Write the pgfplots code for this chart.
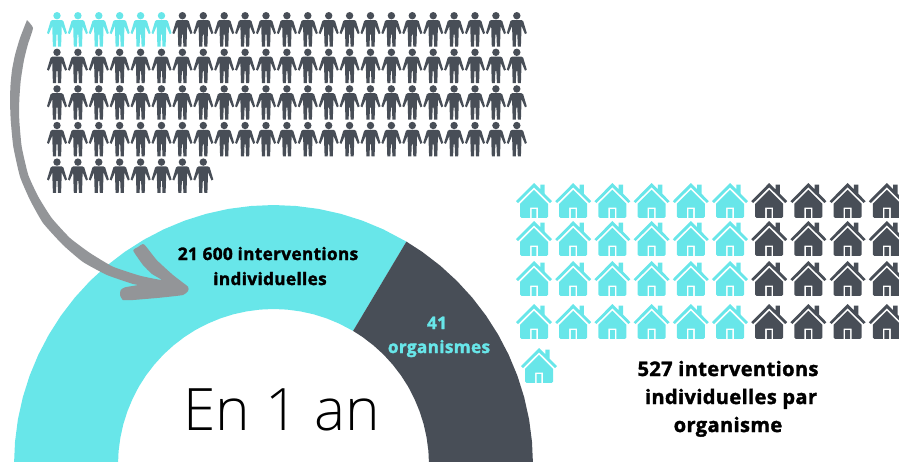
\documentclass[border=0pt]{standalone}
\usepackage{fontspec}
\usepackage{pgfplots}
\pgfplotsset{compat=1.18}
\setmainfont{Open Sans}
\newfontfamily\thinf{Open Sans Light}
\newfontfamily\heavyf[BoldFont={Open Sans Bold},BoldFeatures={FakeBold=1.8,LetterSpace=2}]{Open Sans}
\definecolor{cyanc}{HTML}{68E6E9}
\definecolor{darkc}{HTML}{484E57}
\definecolor{arrowc}{HTML}{939598}

\newcommand{\Mv}[2]{\pgfpathmoveto{\pgfqpoint{#1pt}{#2pt}}}
\newcommand{\Ln}[2]{\pgfpathlineto{\pgfqpoint{#1pt}{#2pt}}}

% pictograms, sizes in reference pixels
\pgfdeclareplotmark{person}{%
  \pgfpathcircle{\pgfqpoint{0pt}{13.8pt}}{3.7pt}%
  \Mv{-4.6}{9.5}\Ln{4.6}{9.5}\Ln{6.4}{8.4}\Ln{10}{-3.6}\Ln{8.2}{-4.6}\Ln{4.7}{3.5}%
  \Ln{4.5}{-5}\Ln{4.1}{-17}\Ln{1}{-17}\Ln{0.5}{-5}\Ln{-0.5}{-5}\Ln{-1}{-17}\Ln{-4.1}{-17}%
  \Ln{-4.5}{-5}\Ln{-4.7}{3.5}\Ln{-8.2}{-4.6}\Ln{-10}{-3.6}\Ln{-6.4}{8.4}\pgfpathclose
  \pgfusepathqfill}
\pgfdeclareplotmark{house}{%
  \Mv{0}{17.5}\Ln{6.3}{11.2}\Ln{6.3}{16}\Ln{10.7}{16}\Ln{10.7}{6.8}\Ln{18}{-0.7}\Ln{16}{-2.5}%
  \Ln{0}{13.2}\Ln{-16}{-2.5}\Ln{-18}{-0.7}\pgfpathclose
  \Mv{0}{10.7}\Ln{14}{-3.3}\Ln{14}{-16}\Ln{12.7}{-17.3}\Ln{4}{-17.3}\Ln{4}{-7}\Ln{-4}{-7}%
  \Ln{-4}{-17.3}\Ln{-12.7}{-17.3}\Ln{-14}{-16}\Ln{-14}{-3.3}\pgfpathclose
  \Mv{-2.4}{-17.3}\Ln{2.4}{-17.3}\Ln{2.4}{-8.7}\Ln{-2.4}{-8.7}\pgfpathclose
  \pgfusepathqfill}

\begin{document}
\begin{tikzpicture}
\path[use as bounding box] (0,0) rectangle (899pt,461pt);
\begin{axis}[
    at={(0,0)}, anchor=south west,
    scale only axis,
    width=899pt, height=461pt,
    xmin=0, xmax=899, ymin=0, ymax=461,
    y dir=reverse,
    hide axis,
    clip=true,
]

% ring: individual interventions
\addplot[fill=cyanc, draw=none] coordinates {
    (406.4,241.6) (383.2,229.3) (362.3,220.6) (340.7,213.8) (318.6,208.9) (296.1,206.0)
    (273.5,205.0) (250.9,206.0) (228.4,208.9) (206.3,213.8) (184.7,220.6) (163.8,229.3)
    (143.7,239.8) (124.7,251.9) (106.7,265.7) (90.0,281.0) (74.7,297.7) (60.9,315.7)
    (48.8,334.7) (38.3,354.8) (29.6,375.7) (22.8,397.3) (17.9,419.4) (15.0,441.9) (14.0,464.5)
    (118.0,464.5) (118.6,450.9) (120.4,437.5) (123.3,424.3) (127.4,411.3) (132.6,398.8)
    (138.8,386.7) (146.1,375.3) (154.4,364.5) (163.5,354.5) (173.5,345.4) (184.3,337.1)
    (195.7,329.8) (207.8,323.6) (220.3,318.4) (233.3,314.3) (246.5,311.4) (259.9,309.6)
    (273.5,309.0) (287.1,309.6) (300.5,311.4) (313.7,314.3) (326.7,318.4) (339.2,323.6)
    (353.1,330.9)
};
% ring: organisations
\addplot[fill=darkc, draw=none] coordinates {
    (406.4,241.6) (422.3,251.9) (440.3,265.7) (457.0,281.0) (472.3,297.7) (486.1,315.7)
    (498.2,334.7) (508.7,354.8) (517.4,375.7) (524.2,397.3) (529.1,419.4) (532.0,441.9)
    (533.0,464.5) (429.0,464.5) (428.4,450.9) (426.6,437.5) (423.7,424.3) (419.6,411.3)
    (414.4,398.8) (408.2,386.7) (400.9,375.3) (392.6,364.5) (383.5,354.5) (373.5,345.4)
    (362.7,337.1) (353.1,330.9)
};
% arrow
\addplot[fill=arrowc, draw=none, smooth, tension=0.3] coordinates {
    (27,20) (33,28) (28,44) (24,60) (20.8,80) (19.3,100) (19.3,120) (21.7,146.7) (28.3,175)
    (38.3,196.7) (51.7,218) (70,238) (90,253) (113,266.7) (140,275.7) (161.7,280)
    (152,274) (143,265) (133.3,250.7) (138,247) (144,244.3) (156.7,260) (173,275) (188,286.7)
    (188,291) (183,295) (160,297.7) (133,300) (123,300) (120,295) (120.7,290) (125,287.3) (138,285)
    (133,284) (107,275) (83,262) (63,245) (43,223) (30,200) (20,176.7) (13.3,146.7) (10.7,120)
    (10,100) (10.5,85) (12,70) (15,55) (20,38) (27,20)
};

% people
\addplot[only marks, mark=person, color=cyanc] coordinates {
    (57,29.5) (77.9,29.5) (98.8,29.5) (119.7,29.5) (140.6,29.5) (161.5,29.5)
};
\addplot[only marks, mark=person, color=darkc] coordinates {
    (182.4,29.5) (203.3,29.5) (224.2,29.5) (245.1,29.5) (266,29.5) (286.9,29.5) (307.8,29.5) (328.7,29.5) (349.6,29.5)
    (370.5,29.5) (391.4,29.5) (412.3,29.5) (433.2,29.5) (454.1,29.5) (475,29.5) (495.9,29.5) (516.8,29.5)
    (57,66.1) (77.9,66.1) (98.8,66.1) (119.7,66.1) (140.6,66.1) (161.5,66.1) (182.4,66.1) (203.3,66.1)
    (224.2,66.1) (245.1,66.1) (266,66.1) (286.9,66.1) (307.8,66.1) (328.7,66.1) (349.6,66.1) (370.5,66.1)
    (391.4,66.1) (412.3,66.1) (433.2,66.1) (454.1,66.1) (475,66.1) (495.9,66.1) (516.8,66.1)
    (57,102.7) (77.9,102.7) (98.8,102.7) (119.7,102.7) (140.6,102.7) (161.5,102.7) (182.4,102.7) (203.3,102.7)
    (224.2,102.7) (245.1,102.7) (266,102.7) (286.9,102.7) (307.8,102.7) (328.7,102.7) (349.6,102.7) (370.5,102.7)
    (391.4,102.7) (412.3,102.7) (433.2,102.7) (454.1,102.7) (475,102.7) (495.9,102.7) (516.8,102.7)
    (57,139.3) (77.9,139.3) (98.8,139.3) (119.7,139.3) (140.6,139.3) (161.5,139.3) (182.4,139.3) (203.3,139.3)
    (224.2,139.3) (245.1,139.3) (266,139.3) (286.9,139.3) (307.8,139.3) (328.7,139.3) (349.6,139.3) (370.5,139.3)
    (391.4,139.3) (412.3,139.3) (433.2,139.3) (454.1,139.3) (475,139.3) (495.9,139.3) (516.8,139.3)
    (57,175.9) (77.9,175.9) (98.8,175.9) (119.7,175.9) (140.6,175.9) (161.5,175.9) (182.4,175.9) (203.3,175.9)
};

% houses
\addplot[only marks, mark=house, color=cyanc] coordinates {
    (534,200.5) (573.2,200.5) (612.4,200.5) (651.6,200.5) (690.8,200.5) (730,200.5)
    (534,238.5) (573.2,238.5) (612.4,238.5) (651.6,238.5) (690.8,238.5) (730,238.5)
    (534,278.5) (573.2,278.5) (612.4,278.5) (651.6,278.5) (690.8,278.5) (730,278.5)
    (534,321.5) (573.2,321.5) (612.4,321.5) (651.6,321.5) (690.8,321.5) (730,321.5)
    (539,365.5)
};
\addplot[only marks, mark=house, color=darkc] coordinates {
    (769.2,200.5) (808.4,200.5) (847.6,200.5) (886.8,200.5)
    (769.2,238.5) (808.4,238.5) (847.6,238.5) (886.8,238.5)
    (769.2,278.5) (808.4,278.5) (847.6,278.5) (886.8,278.5)
    (769.2,321.5) (808.4,321.5) (847.6,321.5) (886.8,321.5)
};

% labels
\node[anchor=base, font=\fontsize{17.2}{17.2}\selectfont\heavyf\bfseries] at (axis cs:268,260) {21 600 interventions};
\node[anchor=base, font=\fontsize{17.2}{17.2}\selectfont\heavyf\bfseries] at (axis cs:270,285) {individuelles};
\node[anchor=base, text=cyanc, font=\fontsize{17.2}{17.2}\selectfont\heavyf\bfseries] at (axis cs:437,329) {41};
\node[anchor=base, text=cyanc, font=\fontsize{17.2}{17.2}\selectfont\heavyf\bfseries] at (axis cs:439,353) {organismes};
\node[anchor=base, font=\fontsize{58.5}{58.5}\selectfont\thinf] at (axis cs:281.5,430) {En 1 an};
\node[anchor=base, font=\fontsize{20}{20}\selectfont\heavyf\bfseries] at (axis cs:728,376) {527 interventions};
\node[anchor=base, font=\fontsize{20}{20}\selectfont\heavyf\bfseries] at (axis cs:731,404) {individuelles par};
\node[anchor=base, font=\fontsize{20}{20}\selectfont\heavyf\bfseries] at (axis cs:728,432) {organisme};
\end{axis}
\end{tikzpicture}
\end{document}
